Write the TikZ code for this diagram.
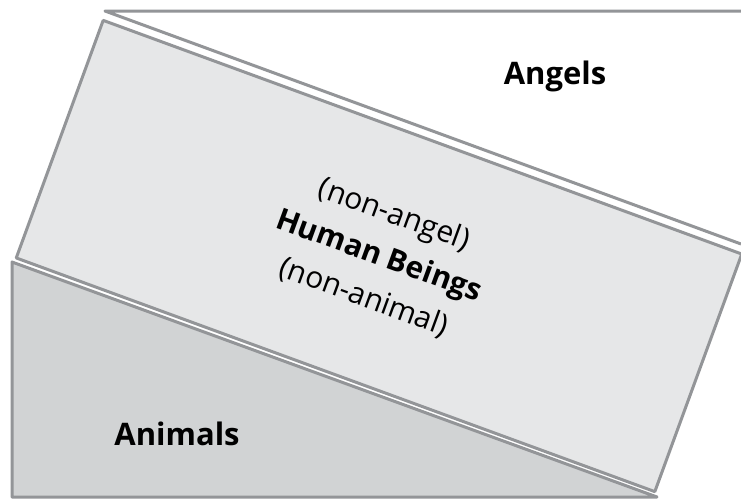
\documentclass[tikz,border=0pt]{standalone}
\usepackage{fontspec}
\setmainfont{Open Sans}

\definecolor{edgegray}{HTML}{939598}
\definecolor{humanfill}{HTML}{E6E7E8}
\definecolor{animalfill}{HTML}{D1D3D4}

\begin{document}
\begin{tikzpicture}[
    x=1pt, y=-1pt,
    region/.style={draw=edgegray, line width=3pt, line join=round},
    lab/.style={font=\fontsize{31}{36}\selectfont\bfseries, inner sep=0pt},
    band/.style={region, fill=humanfill, minimum width=680pt, minimum height=253pt,
                 rotate=-20.1, align=center, font=\fontsize{30}{44}\selectfont}
  ]
    \path[use as bounding box, fill=white] (0,0) rectangle (741,498);

    % angels
    \fill[white] (105,11) -- (741,11) -- (741,244) -- cycle;
    \draw[region] (741,11) -- (105,11) -- (741,244);

    % animals
    \draw[region, fill=animalfill] (12,262) -- (12,497) -- (657,497) -- cycle;

    % human beings
    \node[band] (human) at (379,256) {(non-angel)\\\textbf{Human Beings}\\(non-animal)};

    \node[lab] (angels) at (555,76) {Angels};
    \node[lab] (animals) at (177,434) {Animals};
\end{tikzpicture}
\end{document}
